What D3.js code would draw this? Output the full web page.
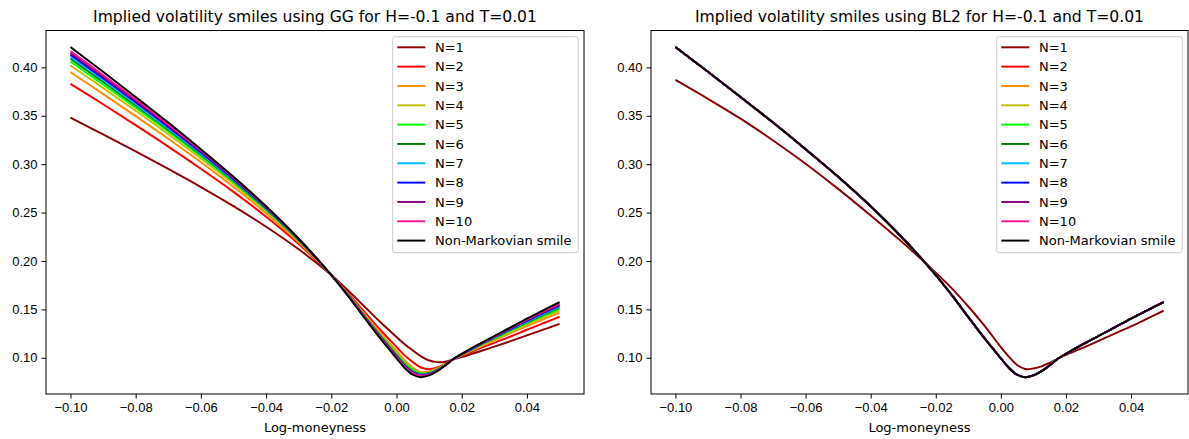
<!DOCTYPE html>
<html>
<head>
<meta charset="utf-8">
<script src="https://cdn.jsdelivr.net/npm/d3@7"></script>
<style>
  body { margin: 0; background: #fff; }
  svg { font-family: "DejaVu Sans", sans-serif; }
  .tick text { font-size: 13px; fill: #000; }
  .tick line { stroke: #000; stroke-width: 1; }
</style>
</head>
<body>
<div id="chart"></div>
<script>
const width = 1189, height = 439;

// log-moneyness grid shared by every smile
const logMoneyness = [-0.10, -0.09, -0.08, -0.07, -0.06, -0.05, -0.04, -0.03, -0.02, -0.015, -0.01, -0.005,
  0.0, 0.0025, 0.005, 0.0075, 0.01, 0.0125, 0.015, 0.0175, 0.02, 0.025, 0.03, 0.035, 0.04, 0.045, 0.05];

const seriesLabels = ["N=1", "N=2", "N=3", "N=4", "N=5", "N=6", "N=7", "N=8", "N=9", "N=10", "Non-Markovian smile"];
const seriesColors = ["#8b0000", "#ff0000", "#ff8c00", "#bfbf00", "#00ff00", "#008000", "#00bfff", "#0000ff", "#800080", "#ff1493", "#000000"];

const xTicks = [-0.10, -0.08, -0.06, -0.04, -0.02, 0.00, 0.02, 0.04];
const yTicks = [0.10, 0.15, 0.20, 0.25, 0.30, 0.35, 0.40];

// non-Markovian (true) smile, same in both panels
const smileTrue = [0.421, 0.3955, 0.3695, 0.343, 0.3155, 0.287, 0.2565, 0.223, 0.1855, 0.1645, 0.1420, 0.1200,
  0.0995, 0.0895, 0.0825, 0.0800, 0.0818, 0.0862, 0.0922, 0.0990, 0.1040, 0.1135, 0.1225, 0.1315, 0.1405, 0.1490, 0.1576];

// GG approximations
const ggN1 = [0.348, 0.3308, 0.3132, 0.2951, 0.2764, 0.2567, 0.2354, 0.2121, 0.1855, 0.1700, 0.1535, 0.1370,
  0.1215, 0.1140, 0.1075, 0.1015, 0.0972, 0.0955, 0.0960, 0.0985, 0.1008, 0.1060, 0.1115, 0.1172, 0.1232, 0.1291, 0.1350];
const ggN2 = [0.383, 0.3619, 0.3403, 0.3182, 0.2953, 0.2714, 0.2457, 0.2175, 0.1855, 0.1674, 0.1481, 0.1290,
  0.1112, 0.1025, 0.0955, 0.0900, 0.0882, 0.0900, 0.0938, 0.0988, 0.1020, 0.1090, 0.1155, 0.1220, 0.1290, 0.1357, 0.1424];
const ggN3 = [0.395, 0.3726, 0.3497, 0.3263, 0.3020, 0.2766, 0.2494, 0.2194, 0.1855, 0.1664, 0.1459, 0.1258,
  0.1070, 0.0975, 0.0898, 0.0852, 0.0860, 0.0890, 0.0934, 0.0988, 0.1025, 0.1105, 0.1180, 0.1255, 0.1327, 0.1397, 0.1466];
const ggN4 = [0.402, 0.3788, 0.3552, 0.3310, 0.3059, 0.2797, 0.2515, 0.2206, 0.1855, 0.1659, 0.1449, 0.1243,
  0.1050, 0.0956, 0.0885, 0.0840, 0.0850, 0.0884, 0.0932, 0.0988, 0.1028, 0.1113, 0.1192, 0.1270, 0.1345, 0.1418, 0.1490];
const ggN5 = [0.406, 0.3824, 0.3584, 0.3337, 0.3081, 0.2814, 0.2528, 0.2212, 0.1855, 0.1655, 0.1442, 0.1232,
  0.1037, 0.0942, 0.0873, 0.0836, 0.0845, 0.0880, 0.0929, 0.0988, 0.1031, 0.1119, 0.1200, 0.1280, 0.1357, 0.1432, 0.1505];
const ggN6 = [0.409, 0.3851, 0.3607, 0.3357, 0.3098, 0.2827, 0.2537, 0.2217, 0.1855, 0.1653, 0.1437, 0.1226,
  0.1028, 0.0932, 0.0863, 0.0830, 0.0841, 0.0876, 0.0928, 0.0988, 0.1033, 0.1123, 0.1206, 0.1288, 0.1366, 0.1443, 0.1520];
const ggN7 = [0.411, 0.3869, 0.3623, 0.3370, 0.3109, 0.2836, 0.2543, 0.2220, 0.1855, 0.1652, 0.1434, 0.1220,
  0.1021, 0.0924, 0.0855, 0.0825, 0.0836, 0.0873, 0.0927, 0.0988, 0.1034, 0.1126, 0.1211, 0.1294, 0.1374, 0.1452, 0.1530];
const ggN8 = [0.413, 0.3887, 0.3639, 0.3384, 0.3120, 0.2845, 0.2549, 0.2224, 0.1855, 0.1650, 0.1431, 0.1216,
  0.1016, 0.0918, 0.0849, 0.0820, 0.0833, 0.0871, 0.0926, 0.0988, 0.1035, 0.1129, 0.1215, 0.1299, 0.1381, 0.1461, 0.1540];
const ggN9 = [0.415, 0.3904, 0.3654, 0.3397, 0.3131, 0.2853, 0.2555, 0.2227, 0.1855, 0.1649, 0.1429, 0.1213,
  0.1012, 0.0913, 0.0844, 0.0816, 0.0830, 0.0869, 0.0925, 0.0988, 0.1037, 0.1131, 0.1219, 0.1305, 0.1389, 0.1470, 0.1550];
const ggN10 = [0.417, 0.3922, 0.3670, 0.3411, 0.3143, 0.2862, 0.2561, 0.2230, 0.1855, 0.1648, 0.1426, 0.1209,
  0.1006, 0.0907, 0.0838, 0.0811, 0.0826, 0.0867, 0.0924, 0.0988, 0.1038, 0.1133, 0.1222, 0.1310, 0.1397, 0.1480, 0.1560];

// BL2 approximations: N=2..10 sit on top of the true smile
const bl2N1 = [0.387, 0.3675, 0.347, 0.3245, 0.3005, 0.2745, 0.2470, 0.2185, 0.1880, 0.1715, 0.1530, 0.1330,
  0.1110, 0.1010, 0.0925, 0.0884, 0.0890, 0.0912, 0.0948, 0.0990, 0.1030, 0.1100, 0.1175, 0.1250, 0.1325, 0.1405, 0.1486];
const bl2Converged = [0.421, 0.3955, 0.3695, 0.343, 0.3155, 0.287, 0.2565, 0.223, 0.1855, 0.1645, 0.1420, 0.1200,
  0.0995, 0.0895, 0.0825, 0.0800, 0.0818, 0.0862, 0.0922, 0.0990, 0.1040, 0.1135, 0.1225, 0.1315, 0.1405, 0.1490, 0.1576];

const ggSeries = [ggN1, ggN2, ggN3, ggN4, ggN5, ggN6, ggN7, ggN8, ggN9, ggN10, smileTrue];
const bl2Series = [bl2N1, bl2Converged, bl2Converged, bl2Converged, bl2Converged, bl2Converged,
  bl2Converged, bl2Converged, bl2Converged, bl2Converged, smileTrue];

const svg = d3.select("#chart")
  .append("svg")
    .attr("width", width)
    .attr("height", height);

const drawPanel = (series, title, left, right) => {
  const top = 30.5, bottom = 394;

  const xScale = d3.scaleLinear()
    .domain([-0.1075, 0.0575])
    .range([left, right]);
  const yScale = d3.scaleLinear()
    .domain([0.0626, 0.4381])
    .range([bottom, top]);

  const g = svg.append("g");

  // Axes
  const bottomAxis = d3.axisBottom(xScale)
    .tickValues(xTicks)
    .tickFormat(d3.format(".2f"))
    .tickSize(4.5)
    .tickPadding(4);
  g.append("g")
    .attr("transform", `translate(0, ${bottom})`)
    .call(bottomAxis)
    .call(a => a.select(".domain").remove());

  const leftAxis = d3.axisLeft(yScale)
    .tickValues(yTicks)
    .tickFormat(d3.format(".2f"))
    .tickSize(4.5)
    .tickPadding(4);
  g.append("g")
    .attr("transform", `translate(${left}, 0)`)
    .call(leftAxis)
    .call(a => a.select(".domain").remove());

  // Lines
  const lineGenerator = d3.line()
    .x((d, i) => xScale(logMoneyness[i]))
    .y(d => yScale(d))
    .curve(d3.curveCatmullRom);

  g.append("g")
    .selectAll("path")
    .data(series)
    .join("path")
      .attr("d", lineGenerator)
      .attr("fill", "none")
      .attr("stroke", (d, i) => seriesColors[i])
      .attr("stroke-width", 1.95);

  // Frame
  g.append("rect")
    .attr("x", left)
    .attr("y", top)
    .attr("width", right - left)
    .attr("height", bottom - top)
    .attr("fill", "none")
    .attr("stroke", "#000")
    .attr("stroke-width", 1);

  // Title and x label
  g.append("text")
    .attr("x", (left + right) / 2)
    .attr("y", 22)
    .attr("text-anchor", "middle")
    .style("font-size", "15.6px")
    .text(title);
  g.append("text")
    .attr("x", (left + right) / 2)
    .attr("y", 432)
    .attr("text-anchor", "middle")
    .style("font-size", "13px")
    .text("Log-moneyness");

  // Legend
  const legendW = 185.6, legendX = right - 5.7 - legendW, legendY = 36.7;
  const legend = g.append("g");
  legend.append("rect")
    .attr("x", legendX)
    .attr("y", legendY)
    .attr("width", legendW)
    .attr("height", 216)
    .attr("rx", 2.5)
    .attr("fill", "#fff")
    .attr("fill-opacity", 0.8)
    .attr("stroke", "#cccccc")
    .attr("stroke-width", 1);
  const items = legend.selectAll("g")
    .data(seriesLabels)
    .join("g")
      .attr("transform", (d, i) => `translate(${legendX}, ${47.3 + i * 19.33})`);
  items.append("line")
    .attr("x1", 4.6)
    .attr("x2", 32.6)
    .attr("stroke", (d, i) => seriesColors[i])
    .attr("stroke-width", 1.95);
  items.append("text")
    .attr("x", 42.3)
    .attr("dy", "0.35em")
    .style("font-size", "13px")
    .text(d => d);
};

drawPanel(ggSeries, "Implied volatility smiles using GG for H=-0.1 and T=0.01", 46, 584);
drawPanel(bl2Series, "Implied volatility smiles using BL2 for H=-0.1 and T=0.01", 651, 1188);
</script>
</body>
</html>
